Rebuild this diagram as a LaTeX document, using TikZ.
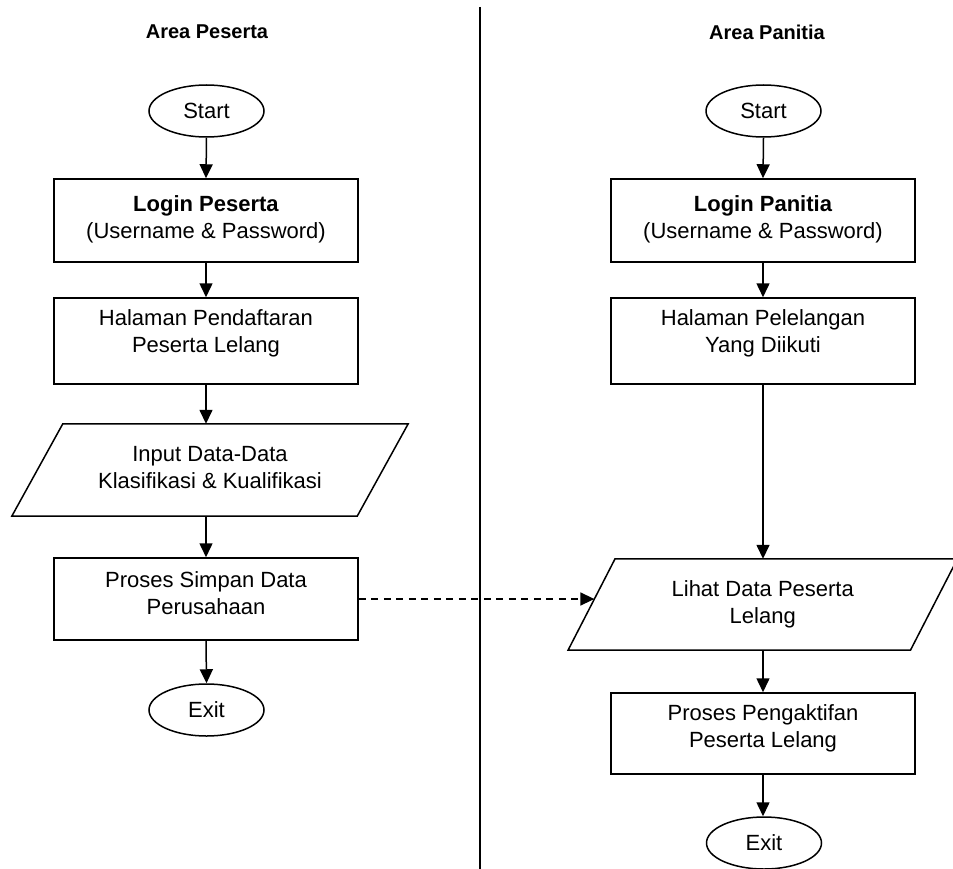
\documentclass[tikz,border=0pt]{standalone}
\usepackage{fontspec}
\setmainfont{Liberation Sans}
\usetikzlibrary{shapes.geometric,arrows.meta,calc}
% stacked, centred lines whose ink is raised by #1 without changing the box size
\newcommand{\lifted}[2]{\raisebox{#1}[\height][\depth]{\begin{tabular}{@{}c@{}}#2\end{tabular}}}
\begin{document}
\begin{tikzpicture}[x=1pt,y=-1pt,
  every node/.style={font=\fontsize{22}{26.7}\selectfont},
  proc/.style={draw, line width=1.5pt, rectangle, minimum width=304pt, inner sep=0pt},
  term/.style={draw, line width=1.5pt, ellipse, minimum width=115pt, minimum height=52pt, inner sep=0pt},
  io/.style={rectangle, inner sep=0pt},
  outline/.style={line width=1.5pt, line join=miter},
  flow/.style={line width=1.5pt, -{Triangle[length=14pt,width=13pt]}},
  link/.style={flow, dash pattern=on 7pt off 5.5pt},
  head/.style={font=\fontsize{20}{24}\selectfont\bfseries}]

\useasboundingbox (0,0) rectangle (953,869);

% lane divider
\draw[line width=1.5pt] (480,7) -- (480,869);

% lane headings
\node[head] (hpes) at (207,32) {Area Peserta};
\node[head] (hpan) at (767,32) {Area Panitia};

% ---- participant lane ----
\node[term] (start1) at (206.5,111) {Start};
\node[proc, minimum height=83pt] (login1) at (206,220.5)
  {\lifted{0.5pt}{\textbf{Login Peserta}\\(Username \& Password)}};
\node[proc, minimum height=86pt] (hal1) at (206,341)
  {\lifted{7pt}{Halaman Pendaftaran\\Peserta Lelang}};
\node[io, minimum width=345pt, minimum height=92pt] (in1) at (210,470)
  {\lifted{0pt}{Input Data-Data\\Klasifikasi \& Kualifikasi}};
\draw[outline] ($(in1.north west)+(25.5,0)$) -- ($(in1.north east)+(25.5,0)$)
  -- ($(in1.south east)-(25.5,0)$) -- ($(in1.south west)-(25.5,0)$) -- cycle;
\node[proc, minimum height=82pt] (sim1) at (206,599)
  {\lifted{3.5pt}{Proses Simpan Data\\Perusahaan}};
\node[term] (exit1) at (206.5,710) {Exit};

\draw[flow] (start1.south) -- (login1.north);
\draw[flow] (login1.south) -- (hal1.north);
\draw[flow] (hal1.south) -- (hal1.south |- in1.north);
\draw[flow] (in1.south -| sim1.north) -- (sim1.north);
\draw[flow] (sim1.south) -- (exit1.north);

% ---- committee lane ----
\node[term] (start2) at (763.5,111) {Start};
\node[proc, minimum height=83pt] (login2) at (763,220.5)
  {\lifted{0.5pt}{\textbf{Login Panitia}\\(Username \& Password)}};
\node[proc, minimum height=86pt] (hal2) at (763,341)
  {\lifted{7pt}{Halaman Pelelangan\\Yang Diikuti}};
\node[io, minimum width=342pt, minimum height=91pt] (in2) at (762.75,604.5)
  {\lifted{0pt}{Lihat Data Peserta\\Lelang}};
\draw[outline] ($(in2.north west)+(23.5,0)$) -- ($(in2.north east)+(23.5,0)$)
  -- ($(in2.south east)-(23.5,0)$) -- ($(in2.south west)-(23.5,0)$) -- cycle;
\node[proc, minimum height=81pt] (akt2) at (763,733.5)
  {\lifted{5pt}{Proses Pengaktifan\\Peserta Lelang}};
\node[term] (exit2) at (764,843) {Exit};

\draw[flow] (start2.south) -- (login2.north);
\draw[flow] (login2.south) -- (hal2.north);
\draw[flow] (hal2.south) -- (hal2.south |- in2.north);
\draw[flow] (in2.south -| akt2.north) -- (akt2.north);
\draw[flow] (akt2.south) -- (akt2.south |- exit2.north);

% hand-over between lanes
\coordinate (in2edge) at ($(in2.west)+(2.8,-5.5)$);
\draw[link] (sim1.east) -- (sim1.east -| in2edge);
\end{tikzpicture}
\end{document}
